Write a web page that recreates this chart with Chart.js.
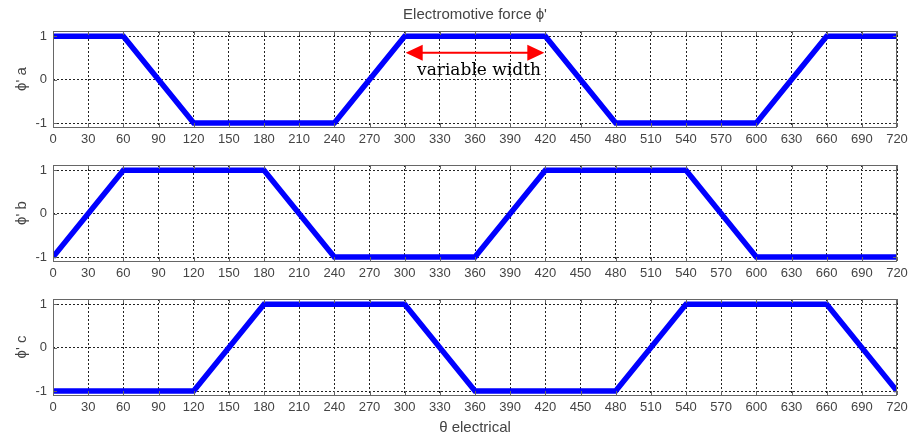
<!DOCTYPE html>
<html><head><meta charset="utf-8">
<script src="https://cdn.jsdelivr.net/npm/chart.js@4"></script>
<style>
html,body{margin:0;padding:0;background:#fff;width:913px;height:440px;overflow:hidden}
canvas{position:absolute;left:0}
</style></head><body>
<canvas id="c1" width="913" height="150" style="top:0px"></canvas>
<canvas id="c2" width="913" height="135" style="top:150px"></canvas>
<canvas id="c3" width="913" height="155" style="top:285px"></canvas>
<script>
// ---- data ----
const thetaA = [0, 60, 120, 240, 300, 420, 480, 600, 660, 720];
const phiA   = [1, 1, -1, -1, 1, 1, -1, -1, 1, 1];
const thetaB = [0, 60, 180, 240, 360, 420, 540, 600, 720];
const phiB   = [-1, 1, 1, -1, -1, 1, 1, -1, -1];
const thetaC = [0, 120, 180, 300, 360, 480, 540, 660, 720];
const phiC   = [-1, -1, 1, 1, -1, -1, 1, 1, -1];
const xTicks = [0,30,60,90,120,150,180,210,240,270,300,330,360,390,420,450,480,510,540,570,600,630,660,690,720];
const yTicks = [-1, 0, 1];
const yLabels = ["ϕ' a", "ϕ' b", "ϕ' c"];
const titleText = "Electromotive force ϕ'";
const xTitleText = "θ electrical";
const annoText = "variable width";
const annoRange = [300, 420];
const annoArrowLevel = 0.62;
const annoTextLevel = 0.21;

const FONT = "'Liberation Sans', Arial, sans-serif";
const TXT = '#444';

const boxPlugin = {
  id: 'box',
  afterDraw(chart) {
    const {ctx, chartArea: a} = chart;
    ctx.save();
    ctx.strokeStyle = '#666';
    ctx.lineWidth = 1;
    ctx.strokeRect(Math.round(a.left) + 0.5, Math.round(a.top) + 0.5,
                   Math.round(a.right - a.left) - 1, Math.round(a.bottom - a.top));
    const xs = chart.scales.x, ys = chart.scales.y;
    ctx.beginPath();
    xTicks.forEach(v => {
      const px = Math.round(xs.getPixelForValue(v)) + 0.5;
      ctx.moveTo(px, a.bottom); ctx.lineTo(px, a.bottom - 4);
      ctx.moveTo(px, a.top); ctx.lineTo(px, a.top + 4);
    });
    yTicks.forEach(v => {
      const py = Math.round(ys.getPixelForValue(v)) + 0.5;
      ctx.moveTo(a.left, py); ctx.lineTo(a.left + 4, py);
      ctx.moveTo(a.right, py); ctx.lineTo(a.right - 4, py);
    });
    ctx.stroke();
    ctx.restore();
  }
};

const titlePlugin = {
  id: 'toptitle',
  afterDraw(chart) {
    const {ctx, chartArea: a} = chart;
    ctx.save();
    ctx.fillStyle = TXT;
    ctx.font = '15px ' + FONT;
    ctx.textAlign = 'center';
    ctx.textBaseline = 'middle';
    ctx.fillText(titleText, (a.left + a.right) / 2, 15);
    ctx.restore();
  }
};

const annoPlugin = {
  id: 'anno',
  afterDraw(chart) {
    const {ctx} = chart;
    const xs = chart.scales.x, ys = chart.scales.y;
    const x1 = xs.getPixelForValue(annoRange[0]) + 1;
    const x2 = xs.getPixelForValue(annoRange[1]) - 1;
    const y = ys.getPixelForValue(annoArrowLevel);
    const hl = 17, hw = 8;
    ctx.save();
    ctx.strokeStyle = '#ff0000';
    ctx.fillStyle = '#ff0000';
    ctx.lineWidth = 2;
    ctx.beginPath();
    ctx.moveTo(x1 + hl - 2, y); ctx.lineTo(x2 - hl + 2, y);
    ctx.stroke();
    ctx.beginPath();
    ctx.moveTo(x1, y); ctx.lineTo(x1 + hl, y - hw); ctx.lineTo(x1 + hl, y + hw); ctx.closePath();
    ctx.fill();
    ctx.beginPath();
    ctx.moveTo(x2, y); ctx.lineTo(x2 - hl, y - hw); ctx.lineTo(x2 - hl, y + hw); ctx.closePath();
    ctx.fill();
    ctx.fillStyle = '#000';
    ctx.font = "17px 'DejaVu Serif', serif";
    ctx.textAlign = 'center';
    ctx.textBaseline = 'middle';
    ctx.fillText(annoText, (x1 + x2) / 2 + 4, ys.getPixelForValue(annoTextLevel));
    ctx.restore();
  }
};

function makeChart(id, xs, ys, yLabel, padTop, xAxisH, extraPlugins, xTitle) {
  const gridOpts = {color: '#222', lineWidth: 1, drawTicks: false};
  return new Chart(document.getElementById(id), {
    type: 'line',
    data: {
      datasets: [{
        data: xs.map((x, i) => ({x: x, y: ys[i]})),
        borderColor: '#0000ff',
        borderWidth: 5.5,
        pointRadius: 0,
        tension: 0,
        fill: false
      }]
    },
    options: {
      responsive: false,
      animation: false,
      events: [],
      layout: {padding: {top: padTop, right: 16, left: 0, bottom: 0}},
      plugins: {legend: {display: false}, tooltip: {enabled: false}},
      scales: {
        x: {
          type: 'linear', min: 0, max: 720,
          afterBuildTicks: s => { s.ticks = xTicks.map(v => ({value: v})); },
          afterFit: s => { s.height = xAxisH; },
          grid: gridOpts,
          border: {display: false, dash: [2, 2]},
          ticks: {color: TXT, font: {family: FONT, size: 13}, padding: 5, maxRotation: 0, autoSkip: false},
          title: xTitle ? {display: true, text: xTitle, color: TXT, font: {family: FONT, size: 15}, padding: {top: 0, bottom: 3}} : {display: false}
        },
        y: {
          min: -1.09, max: 1.12,
          afterBuildTicks: s => { s.ticks = yTicks.map(v => ({value: v})); },
          afterFit: s => { s.width = 53; },
          grid: gridOpts,
          border: {display: false, dash: [2, 2]},
          ticks: {color: TXT, font: {family: FONT, size: 13}, padding: 6},
          title: {display: true, text: yLabel, color: TXT, font: {family: FONT, size: 15}, padding: {top: 13, bottom: 0}}
        }
      }
    },
    plugins: [boxPlugin].concat(extraPlugins)
  });
}

makeChart('c1', thetaA, phiA, yLabels[0], 31, 23, [titlePlugin, annoPlugin], null);
makeChart('c2', thetaB, phiB, yLabels[1], 15, 24, [], null);
makeChart('c3', thetaC, phiC, yLabels[2], 14, 45, [], xTitleText);
</script>
</body></html>
